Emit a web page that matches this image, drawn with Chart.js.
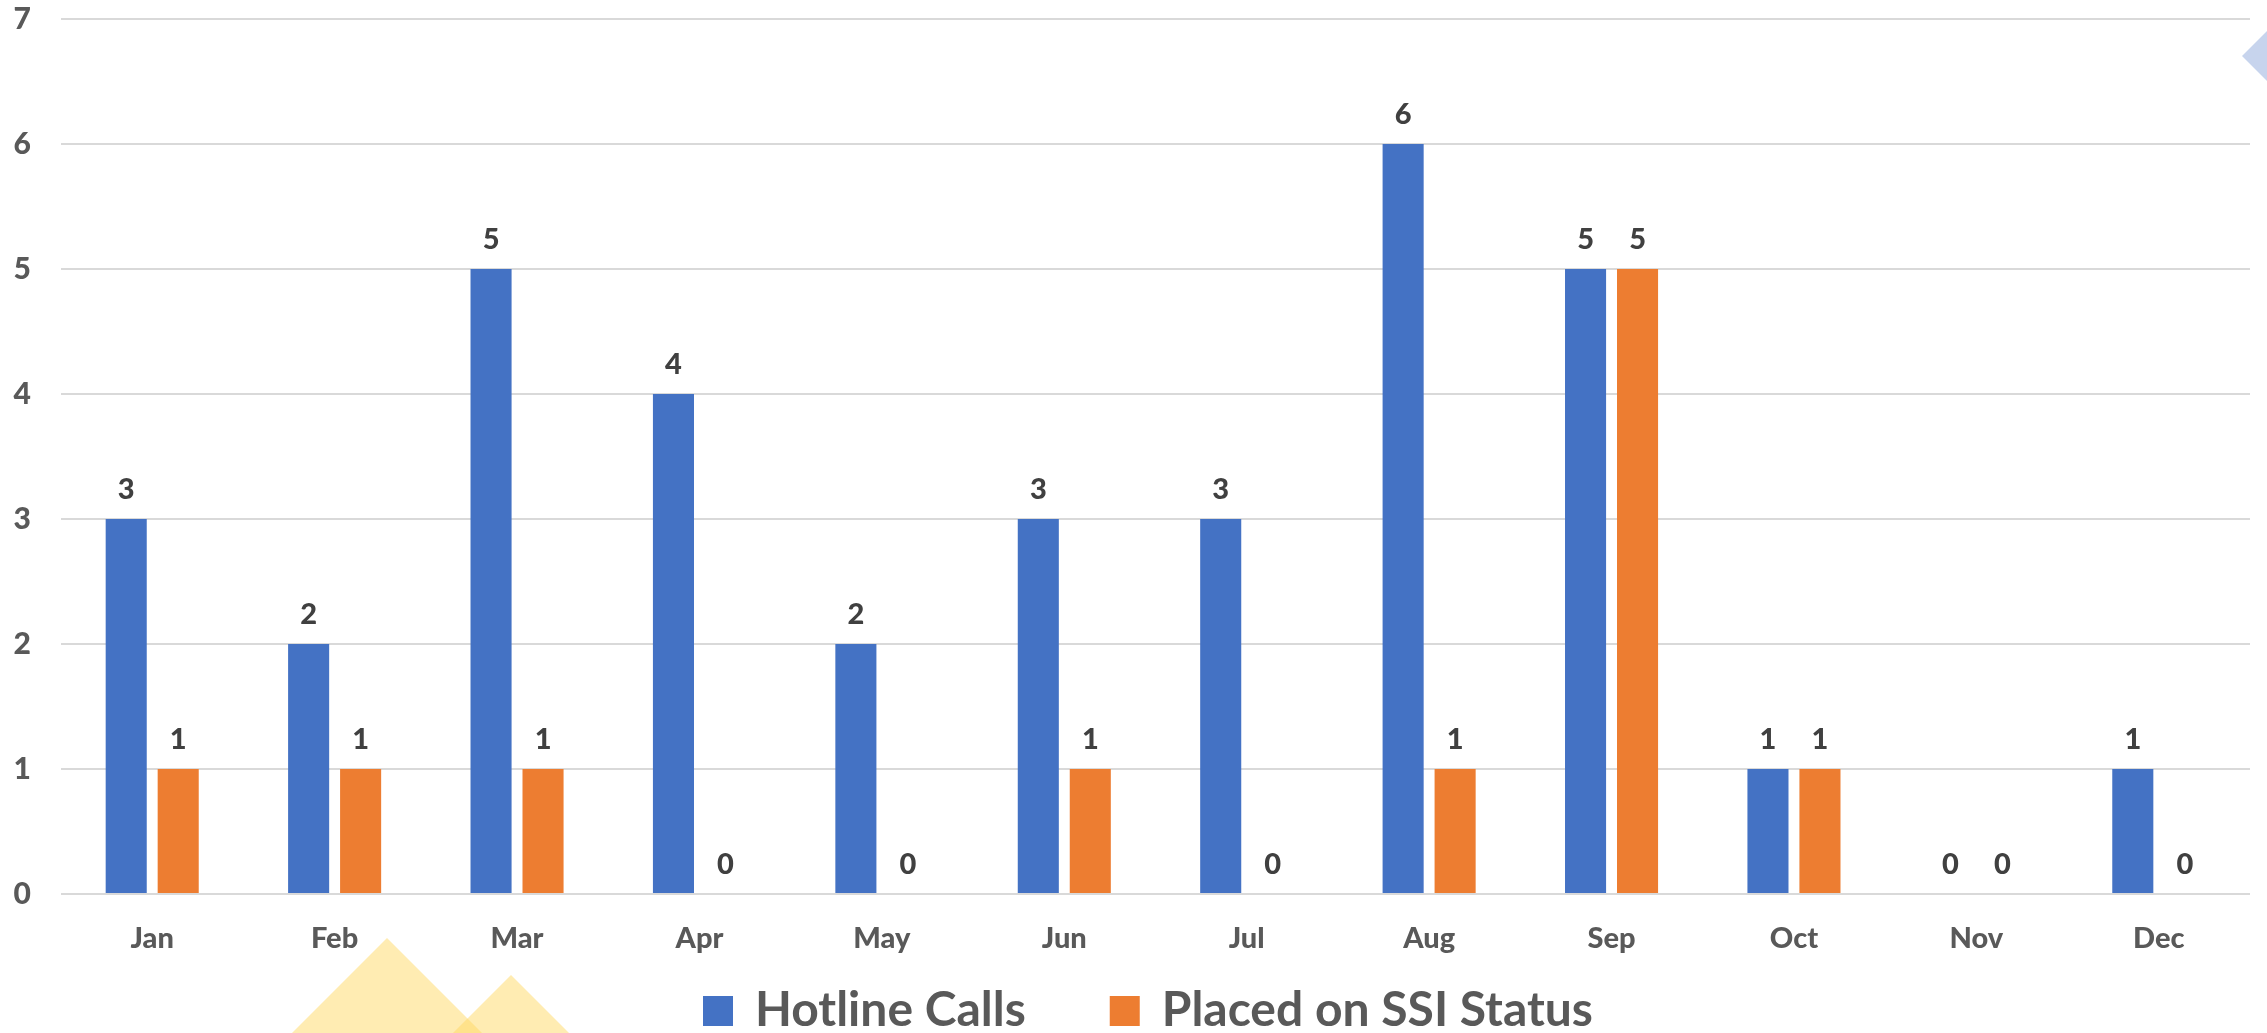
<!DOCTYPE html>
<html>
<head>
<meta charset="utf-8">
<script src="https://cdn.jsdelivr.net/npm/chart.js@4.4.1/dist/chart.umd.min.js"></script>
<style>
  html, body { margin: 0; padding: 0; background: #fff; overflow: hidden; }
  #chart { display: block; }
</style>
</head>
<body>
<canvas id="chart" width="2267" height="1033"></canvas>
<script>
// ─── DATA ────────────────────────────────────────────────────────────────
const MONTHS = ['Jan', 'Feb', 'Mar', 'Apr', 'May', 'Jun', 'Jul', 'Aug', 'Sep', 'Oct', 'Nov', 'Dec'];
const HOTLINE_CALLS = [3, 2, 5, 4, 2, 3, 3, 6, 5, 1, 0, 1];
const SSI_PLACED = [1, 1, 1, 0, 0, 1, 0, 1, 5, 1, 0, 0];
const SERIES_NAMES = ['Hotline Calls', 'Placed on SSI Status'];
const SERIES_COLORS = ['#4472C4', '#ED7D31'];
const Y_TICKS = [0, 1, 2, 3, 4, 5, 6, 7];

const FONT = 'Lato, "Open Sans", sans-serif';
const WEIGHT = 900;
const AXIS_GREY = '#595959';

// Slide decorations behind the chart (yellow peaks bottom-left, blue diamond top-right)
const backdropPlugin = {
  id: 'backdrop',
  beforeDraw(chart) {
    const { ctx } = chart;
    const H = chart.height;
    ctx.save();
    ctx.fillStyle = 'rgba(255, 217, 102, 0.5)';
    [[387, 938], [511, 975]].forEach(([ax, ay]) => {
      const drop = H - ay;
      ctx.beginPath();
      ctx.moveTo(ax, ay);
      ctx.lineTo(ax + drop, H);
      ctx.lineTo(ax - drop, H);
      ctx.closePath();
      ctx.fill();
    });
    ctx.fillStyle = 'rgba(68, 114, 196, 0.3)';
    ctx.beginPath();
    ctx.moveTo(2242, 56);
    ctx.lineTo(2282, 16);
    ctx.lineTo(2322, 56);
    ctx.lineTo(2282, 96);
    ctx.closePath();
    ctx.fill();
    ctx.restore();
  },
};

// Value labels above each bar (zeros sit on the baseline)
const valueLabelPlugin = {
  id: 'valueLabels',
  afterDatasetsDraw(chart) {
    const { ctx } = chart;
    ctx.save();
    ctx.font = `${WEIGHT} 29px ${FONT}`;
    ctx.fillStyle = '#404040';
    ctx.textAlign = 'center';
    ctx.textBaseline = 'alphabetic';
    chart.data.datasets.forEach((ds, i) => {
      chart.getDatasetMeta(i).data.forEach((bar, j) => {
        ctx.fillText(String(ds.data[j]), bar.x, bar.y - 20);
      });
    });
    ctx.restore();
  },
};

// Legend drawn by hand so the big slide-style text can sit at the very bottom
const bottomLegendPlugin = {
  id: 'bottomLegend',
  afterDraw(chart) {
    const { ctx } = chart;
    const BOX = 30, GAP = 22, ITEM_GAP = 84, START_X = 703, BOX_TOP = 996, BASELINE = 1026;
    ctx.save();
    ctx.font = `bold 48px ${FONT}`;
    ctx.textBaseline = 'alphabetic';
    let x = START_X;
    chart.data.datasets.forEach(ds => {
      ctx.fillStyle = ds.backgroundColor;
      ctx.fillRect(x, BOX_TOP, BOX, BOX);
      ctx.fillStyle = AXIS_GREY;
      ctx.fillText(ds.label, x + BOX + GAP, BASELINE);
      x += BOX + GAP + ctx.measureText(ds.label).width + ITEM_GAP;
    });
    ctx.restore();
  },
};

new Chart(document.getElementById('chart'), {
  type: 'bar',
  data: {
    labels: MONTHS,
    datasets: [
      { label: SERIES_NAMES[0], data: HOTLINE_CALLS, backgroundColor: SERIES_COLORS[0] },
      { label: SERIES_NAMES[1], data: SSI_PLACED, backgroundColor: SERIES_COLORS[1] },
    ],
  },
  options: {
    responsive: false,
    animation: false,
    devicePixelRatio: 1,
    layout: { padding: { top: 19, right: 17, left: 0, bottom: 79 } },
    datasets: { bar: { categoryPercentage: 0.57, barPercentage: 0.79 } },
    scales: {
      x: {
        grid: { display: false },
        border: { display: false },
        ticks: { color: AXIS_GREY, font: { family: FONT, size: 29, weight: WEIGHT }, padding: 19 },
        afterFit(scale) { scale.height = 60; scale.paddingLeft = 0; scale.paddingRight = 0; },
      },
      y: {
        min: Y_TICKS[0],
        max: Y_TICKS[Y_TICKS.length - 1],
        afterBuildTicks(scale) { scale.ticks = Y_TICKS.map(v => ({ value: v })); },
        grid: { color: '#D9D9D9', lineWidth: 2, drawTicks: false },
        border: { display: false },
        ticks: { color: AXIS_GREY, font: { family: FONT, size: 30, weight: WEIGHT }, padding: 30 },
        afterFit(scale) { scale.width = 61; scale.paddingTop = 0; scale.paddingBottom = 0; },
      },
    },
    plugins: {
      legend: { display: false },
      tooltip: { enabled: false },
    },
  },
  plugins: [backdropPlugin, valueLabelPlugin, bottomLegendPlugin],
});
</script>
</body>
</html>
